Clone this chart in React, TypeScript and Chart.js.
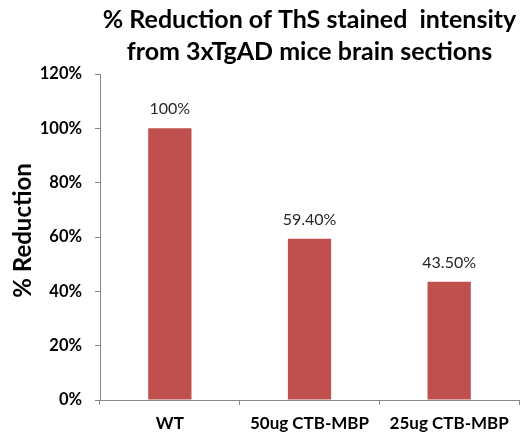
import React, { useEffect, useRef } from "react";
import { Chart, registerables } from "chart.js";

Chart.register(...registerables);

const categories = ["WT", "50ug CTB-MBP", "25ug CTB-MBP"];
const values = [1.0, 0.594, 0.435];
const valueLabels = ["100%", "59.40%", "43.50%"];
const titleLines = ["% Reduction of ThS stained  intensity", "from 3xTgAD mice brain sections"];
const yAxisTitle = "% Reduction";

const FONT = "Lato, 'Open Sans', sans-serif";

export default function App() {
  const ref = useRef<HTMLCanvasElement | null>(null);
  useEffect(() => {
    document.body.style.margin = "0";
    const canvas = ref.current;
    if (!canvas) return;

    const labelPlugin = {
      id: "valueLabels",
      afterDatasetsDraw(chart: any) {
        const ctx = chart.ctx;
        const meta = chart.getDatasetMeta(0);
        ctx.save();
        ctx.font = `16px ${FONT}`;
        ctx.fillStyle = "#262626";
        ctx.textAlign = "center";
        ctx.textBaseline = "alphabetic";
        meta.data.forEach((bar: any, i: number) => {
          ctx.fillText(valueLabels[i], bar.x, bar.y - 14);
        });
        ctx.restore();
      },
    };

    const yTitlePlugin = {
      id: "yTitle",
      afterDraw(chart: any) {
        const ctx = chart.ctx;
        const a = chart.chartArea;
        ctx.save();
        ctx.font = `bold 24px ${FONT}`;
        ctx.fillStyle = "#000";
        ctx.textAlign = "center";
        ctx.textBaseline = "middle";
        ctx.translate(23, a.top + a.height * 0.48);
        ctx.rotate(-Math.PI / 2);
        ctx.fillText(yAxisTitle, 0, 0);
        ctx.restore();
      },
    };

    const chart = new Chart(canvas, {
      type: "bar",
      data: {
        labels: categories,
        datasets: [
          {
            data: values,
            backgroundColor: "#C0504D",
            categoryPercentage: 1,
            barPercentage: 0.31,
          },
        ],
      },
      options: {
        animation: false,
        responsive: false,
        layout: { padding: { right: 1, left: 0, top: 0, bottom: 0 } },
        plugins: {
          legend: { display: false },
          tooltip: { enabled: false },
          title: {
            display: true,
            text: titleLines,
            fullSize: false,
            color: "#000",
            font: { family: FONT, size: 25, weight: "bold", lineHeight: 1.28 },
            padding: { top: 4, bottom: 6 },
          },
        },
        scales: {
          x: {
            offset: true,
            grid: {
              offset: true,
              drawOnChartArea: false,
              drawTicks: true,
              tickLength: 5,
              color: "#868686",
            },
            border: { color: "#868686" },
            ticks: {
              color: "#000",
              font: { family: FONT, size: 17, weight: "bold" },
              padding: 8,
              maxRotation: 0,
            },
            afterFit(scale: any) {
              scale.height = 42;
            },
          },
          y: {
            min: 0,
            max: 1.2,
            grid: {
              drawOnChartArea: false,
              drawTicks: true,
              tickLength: 5,
              color: "#868686",
            },
            border: { color: "#868686" },
            ticks: {
              stepSize: 0.2,
              color: "#000",
              font: { family: FONT, size: 16.5, weight: "bold" },
              padding: 13,
              callback: (v: any) => `${Math.round(Number(v) * 100)}%`,
            },
            afterFit(scale: any) {
              scale.width = 100;
            },
          },
        },
      },
      plugins: [labelPlugin, yTitlePlugin],
    });
    return () => chart.destroy();
  }, []);
  return <canvas ref={ref} width={520} height={442} />;
}
